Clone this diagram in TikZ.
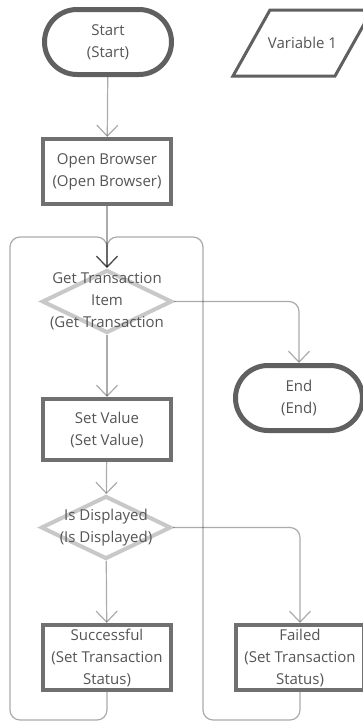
\documentclass[tikz,border=0pt]{standalone}
\usepackage{fontspec}
\setmainfont{Open Sans}
\usetikzlibrary{positioning, shapes.geometric, shapes.misc, arrows.meta, calc}
\definecolor{TermLine}{RGB}{96, 96, 96}
\definecolor{BoxLine}{RGB}{112, 112, 112}
\definecolor{DecLine}{RGB}{200, 200, 200}
\definecolor{LabelText}{RGB}{85, 85, 85}

\begin{document}
\begin{tikzpicture}[x=1pt, y=-1pt,
    font=\fontsize{15pt}{22pt}\selectfont, text=LabelText,
    terminal/.style={rounded rectangle, draw=TermLine, line width=5pt, minimum width=127pt, minimum height=65pt, inner sep=0pt, align=center},
    actionbox/.style={rectangle, draw=BoxLine, line width=4pt, minimum width=128pt, minimum height=65pt, inner sep=0pt, align=center},
    decision/.style={diamond, draw=DecLine, line width=4pt, minimum width=130pt, minimum height=63pt, inner sep=0pt},
    dectext/.style={inner sep=0pt, align=center},
    datainput/.style={draw=TermLine, line width=3pt, line join=miter},
    flow/.style={draw=black, draw opacity=0.33, line width=1.2pt, rounded corners=10pt, -{Straight Barb[length=11pt, width=21pt]}}]
    \path[fill=white, use as bounding box] (0,0) rectangle (362,726);

    % Shapes
    \node[terminal] (start) at (108,42) {Start\\(Start)};
    \node[inner sep=0pt] (var1) at (302.5,43) {Variable 1};
    \draw[datainput] ($(var1)+(-32.5,-33)$) -- ($(var1)+(69.5,-33)$) -- ($(var1)+(32.5,33)$) -- ($(var1)+(-69.5,33)$) -- cycle;
    \node[actionbox] (openb) at (107,171.5) {Open Browser\\(Open Browser)};
    \node[decision] (gettx) at (107,301.5) {};
    \node[dectext] (gettxtext) at (gettx) {Get Transaction\\Item\\(Get Transaction};
    \node[terminal] (endt) at (299,398) {End\\(End)};
    \node[actionbox, minimum height=61pt] (setval) at (107,429.5) {Set Value\\(Set Value)};
    \node[decision] (isdisp) at (106,527.5) {};
    \node[dectext] (isdisptext) at (isdisp) {Is Displayed\\(Is Displayed)};
    \node[actionbox] (succ) at (107,657.5) {Successful\\(Set Transaction\\Status)};
    \node[actionbox] (fail) at (300,657.5) {Failed\\(Set Transaction\\Status)};

    % Loop lanes
    \coordinate (laneL) at (10,237);
    \coordinate (laneR) at (203,237);

    % Connectors
    \draw[flow] (start) -- (openb);
    \draw[flow] (openb) -- (gettx);
    \draw[flow] (gettx.east) -| (endt.north);
    \draw[flow] (gettx) -- (setval);
    \draw[flow] (setval) -- (isdisp);
    \draw[flow] (isdisp) -- (succ);
    \draw[flow] (isdisp.east) -| (fail.north);
    \draw[flow] (succ.south) |- (laneL |- 0,720) -- (laneL) -| (gettx.north);
    \draw[flow] (fail.south) |- (laneR |- 0,720) -- (laneR) -| (gettx.north);
  \end{tikzpicture}
\end{document}
